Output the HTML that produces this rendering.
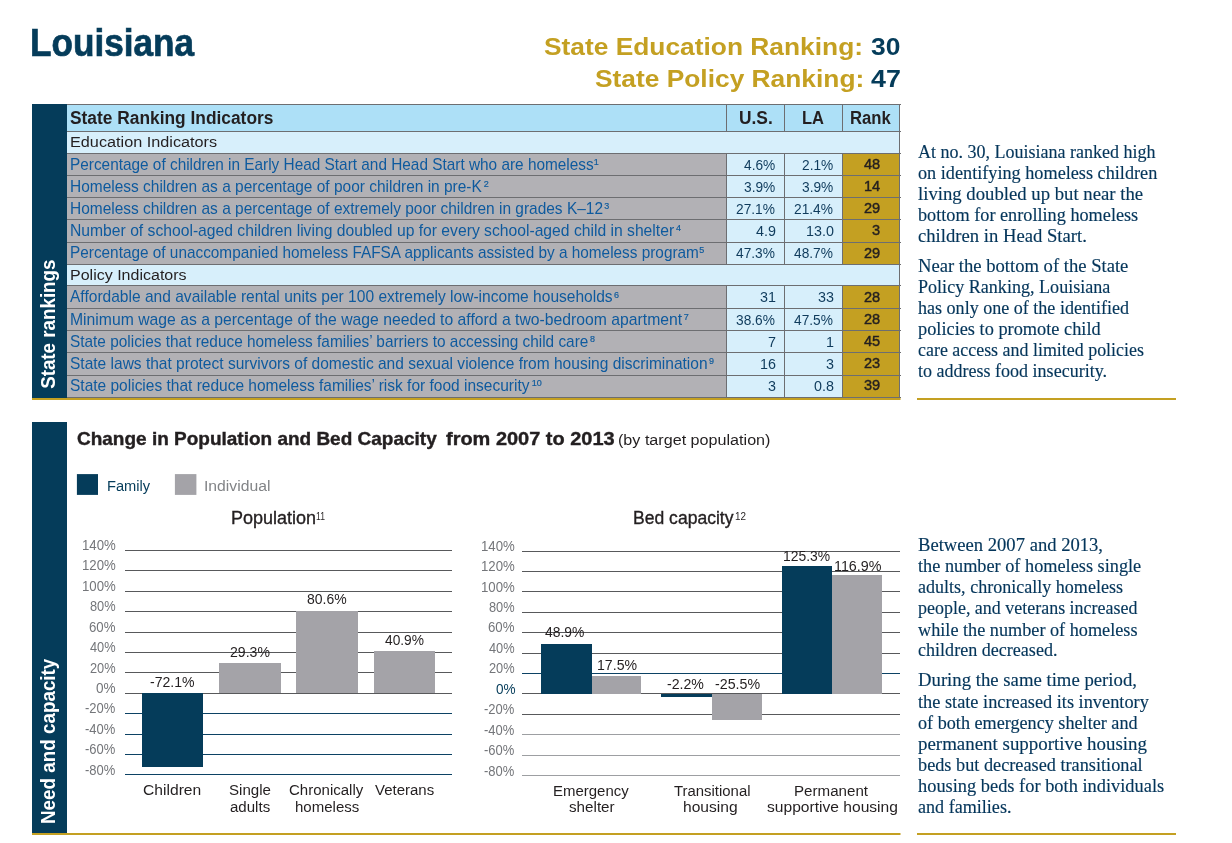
<!DOCTYPE html>
<html lang="en">
<head>
<meta charset="utf-8">
<title>Louisiana — State Rankings, Need and Capacity</title>
<style>
html,body{margin:0;padding:0;background:#fff;}
body{width:1232px;height:843px;position:relative;overflow:hidden;font-family:'Liberation Sans', Arial, sans-serif;}
.page,.blk{position:absolute;left:0;top:0;width:1232px;height:843px;margin:0;padding:0;}
h1,h2,h3,p,figure,figcaption,ul,li,aside,section,header,div{margin:0;padding:0;font-weight:normal;font-size:inherit;}
.g{position:absolute;left:0;top:0;pointer-events:none;}
.t{position:absolute;white-space:nowrap;line-height:1;transform-origin:0 0;display:block;}
sup{line-height:0;}
</style>
</head>
<body>
<main class="page">

<header class="blk">
<h1 class="blk"><span class="t " style="left:29.76px;top:23.90px;font-family:'Liberation Sans', Arial, sans-serif;font-size:38.2px;font-weight:bold;color:#053c5a;-webkit-text-stroke:0.7px #053c5a;transform:scale(0.9209,1.0000);">Louisiana</span></h1>
<div class="blk rankings">
<span class="t " style="left:544.31px;top:34.90px;font-family:'Liberation Sans', Arial, sans-serif;font-size:24.1px;font-weight:bold;color:#c4a022;transform:scale(1.0931,1.0000);">State Education Ranking:</span>
<span class="t " style="left:871.00px;top:34.90px;font-family:'Liberation Sans', Arial, sans-serif;font-size:24.1px;font-weight:bold;color:#053c5a;transform:scale(1.0962,1.0000);">30</span>
<span class="t " style="left:594.61px;top:67.30px;font-family:'Liberation Sans', Arial, sans-serif;font-size:24.1px;font-weight:bold;color:#c4a022;transform:scale(1.0930,1.0000);">State Policy Ranking:</span>
<span class="t " style="left:870.50px;top:67.30px;font-family:'Liberation Sans', Arial, sans-serif;font-size:24.1px;font-weight:bold;color:#053c5a;transform:scale(1.1154,1.0000);">47</span>
</div>
</header>

<section class="blk" id="state-rankings">
<svg class="g" width="1232" height="843" viewBox="0 0 1232 843" aria-hidden="true">
<rect x="32.00" y="104.00" width="35.00" height="294.00" fill="#053c5a"/>
<rect x="67.00" y="104.00" width="832.50" height="27.00" fill="#ade0f7"/>
<rect x="67.00" y="131.00" width="832.50" height="22.00" fill="#d7effb"/>
<rect x="67.00" y="153.00" width="659.40" height="22.00" fill="#b2b1b5"/>
<rect x="726.40" y="153.00" width="116.10" height="22.00" fill="#d7effb"/>
<rect x="842.50" y="153.00" width="57.00" height="22.00" fill="#c4a022"/>
<rect x="67.00" y="175.00" width="659.40" height="22.00" fill="#b2b1b5"/>
<rect x="726.40" y="175.00" width="116.10" height="22.00" fill="#d7effb"/>
<rect x="842.50" y="175.00" width="57.00" height="22.00" fill="#c4a022"/>
<rect x="67.00" y="197.00" width="659.40" height="22.00" fill="#b2b1b5"/>
<rect x="726.40" y="197.00" width="116.10" height="22.00" fill="#d7effb"/>
<rect x="842.50" y="197.00" width="57.00" height="22.00" fill="#c4a022"/>
<rect x="67.00" y="219.00" width="659.40" height="23.00" fill="#b2b1b5"/>
<rect x="726.40" y="219.00" width="116.10" height="23.00" fill="#d7effb"/>
<rect x="842.50" y="219.00" width="57.00" height="23.00" fill="#c4a022"/>
<rect x="67.00" y="242.00" width="659.40" height="22.00" fill="#b2b1b5"/>
<rect x="726.40" y="242.00" width="116.10" height="22.00" fill="#d7effb"/>
<rect x="842.50" y="242.00" width="57.00" height="22.00" fill="#c4a022"/>
<rect x="67.00" y="264.00" width="832.50" height="21.00" fill="#d7effb"/>
<rect x="67.00" y="285.00" width="659.40" height="23.00" fill="#b2b1b5"/>
<rect x="726.40" y="285.00" width="116.10" height="23.00" fill="#d7effb"/>
<rect x="842.50" y="285.00" width="57.00" height="23.00" fill="#c4a022"/>
<rect x="67.00" y="308.00" width="659.40" height="22.00" fill="#b2b1b5"/>
<rect x="726.40" y="308.00" width="116.10" height="22.00" fill="#d7effb"/>
<rect x="842.50" y="308.00" width="57.00" height="22.00" fill="#c4a022"/>
<rect x="67.00" y="330.00" width="659.40" height="22.00" fill="#b2b1b5"/>
<rect x="726.40" y="330.00" width="116.10" height="22.00" fill="#d7effb"/>
<rect x="842.50" y="330.00" width="57.00" height="22.00" fill="#c4a022"/>
<rect x="67.00" y="352.00" width="659.40" height="23.00" fill="#b2b1b5"/>
<rect x="726.40" y="352.00" width="116.10" height="23.00" fill="#d7effb"/>
<rect x="842.50" y="352.00" width="57.00" height="23.00" fill="#c4a022"/>
<rect x="67.00" y="375.00" width="659.40" height="22.00" fill="#b2b1b5"/>
<rect x="726.40" y="375.00" width="116.10" height="22.00" fill="#d7effb"/>
<rect x="842.50" y="375.00" width="57.00" height="22.00" fill="#c4a022"/>
<line x1="67.00" y1="104.50" x2="901.00" y2="104.50" stroke="#6d6e71" stroke-width="1.0" shape-rendering="crispEdges"/>
<line x1="67.00" y1="131.50" x2="901.00" y2="131.50" stroke="#6d6e71" stroke-width="1.0" shape-rendering="crispEdges"/>
<line x1="67.00" y1="153.50" x2="901.00" y2="153.50" stroke="#6d6e71" stroke-width="1.0" shape-rendering="crispEdges"/>
<line x1="67.00" y1="175.50" x2="901.00" y2="175.50" stroke="#6d6e71" stroke-width="1.0" shape-rendering="crispEdges"/>
<line x1="67.00" y1="197.50" x2="901.00" y2="197.50" stroke="#6d6e71" stroke-width="1.0" shape-rendering="crispEdges"/>
<line x1="67.00" y1="219.50" x2="901.00" y2="219.50" stroke="#6d6e71" stroke-width="1.0" shape-rendering="crispEdges"/>
<line x1="67.00" y1="242.50" x2="901.00" y2="242.50" stroke="#6d6e71" stroke-width="1.0" shape-rendering="crispEdges"/>
<line x1="67.00" y1="264.50" x2="901.00" y2="264.50" stroke="#6d6e71" stroke-width="1.0" shape-rendering="crispEdges"/>
<line x1="67.00" y1="285.50" x2="901.00" y2="285.50" stroke="#6d6e71" stroke-width="1.0" shape-rendering="crispEdges"/>
<line x1="67.00" y1="308.50" x2="901.00" y2="308.50" stroke="#6d6e71" stroke-width="1.0" shape-rendering="crispEdges"/>
<line x1="67.00" y1="330.50" x2="901.00" y2="330.50" stroke="#6d6e71" stroke-width="1.0" shape-rendering="crispEdges"/>
<line x1="67.00" y1="352.50" x2="901.00" y2="352.50" stroke="#6d6e71" stroke-width="1.0" shape-rendering="crispEdges"/>
<line x1="67.00" y1="375.50" x2="901.00" y2="375.50" stroke="#6d6e71" stroke-width="1.0" shape-rendering="crispEdges"/>
<line x1="67.00" y1="397.50" x2="901.00" y2="397.50" stroke="#6d6e71" stroke-width="1.0" shape-rendering="crispEdges"/>
<line x1="899.50" y1="104.00" x2="899.50" y2="398.00" stroke="#6d6e71" stroke-width="1.0" shape-rendering="crispEdges"/>
<line x1="726.50" y1="104.00" x2="726.50" y2="131.00" stroke="#6d6e71" stroke-width="1.0" shape-rendering="crispEdges"/>
<line x1="726.50" y1="153.00" x2="726.50" y2="264.00" stroke="#6d6e71" stroke-width="1.0" shape-rendering="crispEdges"/>
<line x1="726.50" y1="285.00" x2="726.50" y2="397.00" stroke="#6d6e71" stroke-width="1.0" shape-rendering="crispEdges"/>
<line x1="784.50" y1="104.00" x2="784.50" y2="131.00" stroke="#6d6e71" stroke-width="1.0" shape-rendering="crispEdges"/>
<line x1="784.50" y1="153.00" x2="784.50" y2="264.00" stroke="#6d6e71" stroke-width="1.0" shape-rendering="crispEdges"/>
<line x1="784.50" y1="285.00" x2="784.50" y2="397.00" stroke="#6d6e71" stroke-width="1.0" shape-rendering="crispEdges"/>
<line x1="842.50" y1="104.00" x2="842.50" y2="131.00" stroke="#6d6e71" stroke-width="1.0" shape-rendering="crispEdges"/>
<line x1="842.50" y1="153.00" x2="842.50" y2="264.00" stroke="#6d6e71" stroke-width="1.0" shape-rendering="crispEdges"/>
<line x1="842.50" y1="285.00" x2="842.50" y2="397.00" stroke="#6d6e71" stroke-width="1.0" shape-rendering="crispEdges"/>
<rect x="32.00" y="398.00" width="868.50" height="2.00" fill="#c4a022"/>
<rect x="917.00" y="398.00" width="259.00" height="2.00" fill="#c4a022"/>
</svg>
<h2 class="blk"><span class="t " style="left:0;top:0;font-family:'Liberation Sans', Arial, sans-serif;font-size:20px;font-weight:bold;color:#ffffff;transform:translate(37.42px,388.84px) rotate(-90deg) scale(0.9382,1.0400);">State rankings</span></h2>
<div class="blk tablewrap">
<span class="t " style="left:70.20px;top:109.75px;font-family:'Liberation Sans', Arial, sans-serif;font-size:17.5px;font-weight:bold;color:#231f20;transform:scale(0.9912,1.0000);">State Ranking Indicators</span>
<span class="t " style="left:738.53px;top:109.75px;font-family:'Liberation Sans', Arial, sans-serif;font-size:17.5px;font-weight:bold;color:#231f20;transform:scale(0.9922,1.0000);">U.S.</span>
<span class="t " style="left:802.08px;top:109.75px;font-family:'Liberation Sans', Arial, sans-serif;font-size:17.5px;font-weight:bold;color:#231f20;transform:scale(0.9432,1.0000);">LA</span>
<span class="t " style="left:850.30px;top:109.75px;font-family:'Liberation Sans', Arial, sans-serif;font-size:17.5px;font-weight:bold;color:#231f20;transform:scale(0.9524,1.0000);">Rank</span>
<span class="t " style="left:70.20px;top:134.40px;font-family:'Liberation Sans', Arial, sans-serif;font-size:15.4px;font-weight:normal;color:#231f20;transform:scale(1.0547,1.0000);">Education Indicators</span>
<span class="t " style="left:70.20px;top:267.10px;font-family:'Liberation Sans', Arial, sans-serif;font-size:15.4px;font-weight:normal;color:#231f20;transform:scale(1.0406,1.0000);">Policy Indicators</span>
<span class="t r1" style="left:70.20px;top:156.55px;font-family:'Liberation Sans', Arial, sans-serif;font-size:15.9px;font-weight:normal;color:#0e5a9e;transform:scale(0.9671,1.0000);">Percentage of children in Early Head Start and Head Start who are homeless</span>
<span class="t " style="left:593.80px;top:157.65px;font-family:'Liberation Sans', Arial, sans-serif;font-size:9px;font-weight:normal;color:#0e5a9e;-webkit-text-stroke:0.2px #115e9e;">1</span>
<span class="t " style="left:744.42px;top:156.55px;font-family:'Liberation Sans', Arial, sans-serif;font-size:15.5px;font-weight:normal;color:#0f3b5c;transform:scale(0.8850,1.0000);">4.6%</span>
<span class="t " style="left:802.32px;top:156.55px;font-family:'Liberation Sans', Arial, sans-serif;font-size:15.5px;font-weight:normal;color:#0f3b5c;transform:scale(0.8850,1.0000);">2.1%</span>
<span class="t " style="left:863.72px;top:155.95px;font-family:'Liberation Sans', Arial, sans-serif;font-size:15.5px;font-weight:normal;color:#231f20;-webkit-text-stroke:0.45px #231f20;transform:scale(0.9400,1.0000);">48</span>
<span class="t r2" style="left:70.20px;top:178.70px;font-family:'Liberation Sans', Arial, sans-serif;font-size:15.9px;font-weight:normal;color:#0e5a9e;transform:scale(0.9733,1.0000);">Homeless children as a percentage of poor children in pre-K</span>
<span class="t " style="left:483.70px;top:179.80px;font-family:'Liberation Sans', Arial, sans-serif;font-size:9px;font-weight:normal;color:#0e5a9e;-webkit-text-stroke:0.2px #115e9e;">2</span>
<span class="t " style="left:744.42px;top:178.70px;font-family:'Liberation Sans', Arial, sans-serif;font-size:15.5px;font-weight:normal;color:#0f3b5c;transform:scale(0.8850,1.0000);">3.9%</span>
<span class="t " style="left:802.32px;top:178.70px;font-family:'Liberation Sans', Arial, sans-serif;font-size:15.5px;font-weight:normal;color:#0f3b5c;transform:scale(0.8850,1.0000);">3.9%</span>
<span class="t " style="left:863.72px;top:178.10px;font-family:'Liberation Sans', Arial, sans-serif;font-size:15.5px;font-weight:normal;color:#231f20;-webkit-text-stroke:0.45px #231f20;transform:scale(0.9400,1.0000);">14</span>
<span class="t r3" style="left:70.20px;top:200.85px;font-family:'Liberation Sans', Arial, sans-serif;font-size:15.9px;font-weight:normal;color:#0e5a9e;transform:scale(0.9733,1.0000);">Homeless children as a percentage of extremely poor children in grades K–12</span>
<span class="t " style="left:604.20px;top:201.95px;font-family:'Liberation Sans', Arial, sans-serif;font-size:9px;font-weight:normal;color:#0e5a9e;-webkit-text-stroke:0.2px #115e9e;">3</span>
<span class="t " style="left:736.46px;top:200.85px;font-family:'Liberation Sans', Arial, sans-serif;font-size:15.5px;font-weight:normal;color:#0f3b5c;transform:scale(0.8850,1.0000);">27.1%</span>
<span class="t " style="left:794.36px;top:200.85px;font-family:'Liberation Sans', Arial, sans-serif;font-size:15.5px;font-weight:normal;color:#0f3b5c;transform:scale(0.8850,1.0000);">21.4%</span>
<span class="t " style="left:863.72px;top:200.25px;font-family:'Liberation Sans', Arial, sans-serif;font-size:15.5px;font-weight:normal;color:#231f20;-webkit-text-stroke:0.45px #231f20;transform:scale(0.9400,1.0000);">29</span>
<span class="t r4" style="left:70.20px;top:223.00px;font-family:'Liberation Sans', Arial, sans-serif;font-size:15.9px;font-weight:normal;color:#0e5a9e;transform:scale(0.9869,1.0000);">Number of school-aged children living doubled up for every school-aged child in shelter</span>
<span class="t " style="left:676.00px;top:224.10px;font-family:'Liberation Sans', Arial, sans-serif;font-size:9px;font-weight:normal;color:#0e5a9e;-webkit-text-stroke:0.2px #115e9e;">4</span>
<span class="t " style="left:755.98px;top:223.00px;font-family:'Liberation Sans', Arial, sans-serif;font-size:15.5px;font-weight:normal;color:#0f3b5c;transform:scale(0.9250,1.0000);">4.9</span>
<span class="t " style="left:805.55px;top:223.00px;font-family:'Liberation Sans', Arial, sans-serif;font-size:15.5px;font-weight:normal;color:#0f3b5c;transform:scale(0.9250,1.0000);">13.0</span>
<span class="t " style="left:872.18px;top:222.40px;font-family:'Liberation Sans', Arial, sans-serif;font-size:15.5px;font-weight:normal;color:#231f20;-webkit-text-stroke:0.45px #231f20;transform:scale(0.9400,1.0000);">3</span>
<span class="t r5" style="left:70.20px;top:245.15px;font-family:'Liberation Sans', Arial, sans-serif;font-size:15.9px;font-weight:normal;color:#0e5a9e;transform:scale(0.9660,1.0000);">Percentage of unaccompanied homeless FAFSA applicants assisted by a homeless program</span>
<span class="t " style="left:699.20px;top:246.25px;font-family:'Liberation Sans', Arial, sans-serif;font-size:9px;font-weight:normal;color:#0e5a9e;-webkit-text-stroke:0.2px #115e9e;">5</span>
<span class="t " style="left:736.46px;top:245.15px;font-family:'Liberation Sans', Arial, sans-serif;font-size:15.5px;font-weight:normal;color:#0f3b5c;transform:scale(0.8850,1.0000);">47.3%</span>
<span class="t " style="left:794.36px;top:245.15px;font-family:'Liberation Sans', Arial, sans-serif;font-size:15.5px;font-weight:normal;color:#0f3b5c;transform:scale(0.8850,1.0000);">48.7%</span>
<span class="t " style="left:863.72px;top:244.55px;font-family:'Liberation Sans', Arial, sans-serif;font-size:15.5px;font-weight:normal;color:#231f20;-webkit-text-stroke:0.45px #231f20;transform:scale(0.9400,1.0000);">29</span>
<span class="t r7" style="left:70.20px;top:289.45px;font-family:'Liberation Sans', Arial, sans-serif;font-size:15.9px;font-weight:normal;color:#0e5a9e;transform:scale(0.9787,1.0000);">Affordable and available rental units per 100 extremely low-income households</span>
<span class="t " style="left:614.00px;top:290.55px;font-family:'Liberation Sans', Arial, sans-serif;font-size:9px;font-weight:normal;color:#0e5a9e;-webkit-text-stroke:0.2px #115e9e;">6</span>
<span class="t " style="left:759.67px;top:289.45px;font-family:'Liberation Sans', Arial, sans-serif;font-size:15.5px;font-weight:normal;color:#0f3b5c;transform:scale(0.9250,1.0000);">31</span>
<span class="t " style="left:817.57px;top:289.45px;font-family:'Liberation Sans', Arial, sans-serif;font-size:15.5px;font-weight:normal;color:#0f3b5c;transform:scale(0.9250,1.0000);">33</span>
<span class="t " style="left:863.72px;top:288.85px;font-family:'Liberation Sans', Arial, sans-serif;font-size:15.5px;font-weight:normal;color:#231f20;-webkit-text-stroke:0.45px #231f20;transform:scale(0.9400,1.0000);">28</span>
<span class="t r8" style="left:70.20px;top:311.60px;font-family:'Liberation Sans', Arial, sans-serif;font-size:15.9px;font-weight:normal;color:#0e5a9e;transform:scale(0.9905,1.0000);">Minimum wage as a percentage of the wage needed to afford a two-bedroom apartment</span>
<span class="t " style="left:683.80px;top:312.70px;font-family:'Liberation Sans', Arial, sans-serif;font-size:9px;font-weight:normal;color:#0e5a9e;-webkit-text-stroke:0.2px #115e9e;">7</span>
<span class="t " style="left:736.46px;top:311.60px;font-family:'Liberation Sans', Arial, sans-serif;font-size:15.5px;font-weight:normal;color:#0f3b5c;transform:scale(0.8850,1.0000);">38.6%</span>
<span class="t " style="left:794.36px;top:311.60px;font-family:'Liberation Sans', Arial, sans-serif;font-size:15.5px;font-weight:normal;color:#0f3b5c;transform:scale(0.8850,1.0000);">47.5%</span>
<span class="t " style="left:863.72px;top:311.00px;font-family:'Liberation Sans', Arial, sans-serif;font-size:15.5px;font-weight:normal;color:#231f20;-webkit-text-stroke:0.45px #231f20;transform:scale(0.9400,1.0000);">28</span>
<span class="t r9" style="left:70.20px;top:333.75px;font-family:'Liberation Sans', Arial, sans-serif;font-size:15.9px;font-weight:normal;color:#0e5a9e;transform:scale(0.9679,1.0000);">State policies that reduce homeless families’ barriers to accessing child care</span>
<span class="t " style="left:590.10px;top:334.85px;font-family:'Liberation Sans', Arial, sans-serif;font-size:9px;font-weight:normal;color:#0e5a9e;-webkit-text-stroke:0.2px #115e9e;">8</span>
<span class="t " style="left:768.00px;top:333.75px;font-family:'Liberation Sans', Arial, sans-serif;font-size:15.5px;font-weight:normal;color:#0f3b5c;transform:scale(0.9250,1.0000);">7</span>
<span class="t " style="left:825.90px;top:333.75px;font-family:'Liberation Sans', Arial, sans-serif;font-size:15.5px;font-weight:normal;color:#0f3b5c;transform:scale(0.9250,1.0000);">1</span>
<span class="t " style="left:863.72px;top:333.15px;font-family:'Liberation Sans', Arial, sans-serif;font-size:15.5px;font-weight:normal;color:#231f20;-webkit-text-stroke:0.45px #231f20;transform:scale(0.9400,1.0000);">45</span>
<span class="t r10" style="left:70.20px;top:355.90px;font-family:'Liberation Sans', Arial, sans-serif;font-size:15.9px;font-weight:normal;color:#0e5a9e;transform:scale(0.9768,1.0000);">State laws that protect survivors of domestic and sexual violence from housing discrimination</span>
<span class="t " style="left:708.90px;top:357.00px;font-family:'Liberation Sans', Arial, sans-serif;font-size:9px;font-weight:normal;color:#0e5a9e;-webkit-text-stroke:0.2px #115e9e;">9</span>
<span class="t " style="left:759.68px;top:355.90px;font-family:'Liberation Sans', Arial, sans-serif;font-size:15.5px;font-weight:normal;color:#0f3b5c;transform:scale(0.9250,1.0000);">16</span>
<span class="t " style="left:825.90px;top:355.90px;font-family:'Liberation Sans', Arial, sans-serif;font-size:15.5px;font-weight:normal;color:#0f3b5c;transform:scale(0.9250,1.0000);">3</span>
<span class="t " style="left:863.72px;top:355.30px;font-family:'Liberation Sans', Arial, sans-serif;font-size:15.5px;font-weight:normal;color:#231f20;-webkit-text-stroke:0.45px #231f20;transform:scale(0.9400,1.0000);">23</span>
<span class="t r11" style="left:70.20px;top:378.05px;font-family:'Liberation Sans', Arial, sans-serif;font-size:15.9px;font-weight:normal;color:#0e5a9e;transform:scale(0.9754,1.0000);">State policies that reduce homeless families’ risk for food insecurity</span>
<span class="t " style="left:531.80px;top:379.15px;font-family:'Liberation Sans', Arial, sans-serif;font-size:9px;font-weight:normal;color:#0e5a9e;-webkit-text-stroke:0.2px #115e9e;">10</span>
<span class="t " style="left:768.00px;top:378.05px;font-family:'Liberation Sans', Arial, sans-serif;font-size:15.5px;font-weight:normal;color:#0f3b5c;transform:scale(0.9250,1.0000);">3</span>
<span class="t " style="left:813.88px;top:378.05px;font-family:'Liberation Sans', Arial, sans-serif;font-size:15.5px;font-weight:normal;color:#0f3b5c;transform:scale(0.9250,1.0000);">0.8</span>
<span class="t " style="left:863.72px;top:377.45px;font-family:'Liberation Sans', Arial, sans-serif;font-size:15.5px;font-weight:normal;color:#231f20;-webkit-text-stroke:0.45px #231f20;transform:scale(0.9400,1.0000);">39</span>
</div>
<aside class="blk">
<p class="blk">
<span class="t " style="left:917.70px;top:143.50px;font-family:'Liberation Serif', 'Times New Roman', serif;font-size:17.8px;font-weight:normal;color:#04355a;-webkit-text-stroke:0.15px #04355a;transform:scale(1.0128,1.0000);">At no. 30, Louisiana ranked high</span>
<span class="t " style="left:917.70px;top:164.70px;font-family:'Liberation Serif', 'Times New Roman', serif;font-size:17.8px;font-weight:normal;color:#04355a;-webkit-text-stroke:0.15px #04355a;transform:scale(1.0244,1.0000);">on identifying homeless children</span>
<span class="t " style="left:917.70px;top:185.90px;font-family:'Liberation Serif', 'Times New Roman', serif;font-size:17.8px;font-weight:normal;color:#04355a;-webkit-text-stroke:0.15px #04355a;transform:scale(1.0528,1.0000);">living doubled up but near the</span>
<span class="t " style="left:917.70px;top:206.80px;font-family:'Liberation Serif', 'Times New Roman', serif;font-size:17.8px;font-weight:normal;color:#04355a;-webkit-text-stroke:0.15px #04355a;transform:scale(1.0251,1.0000);">bottom for enrolling homeless</span>
<span class="t " style="left:917.70px;top:228.00px;font-family:'Liberation Serif', 'Times New Roman', serif;font-size:17.8px;font-weight:normal;color:#04355a;-webkit-text-stroke:0.15px #04355a;transform:scale(1.0487,1.0000);">children in Head Start.</span>
</p>
<p class="blk">
<span class="t " style="left:917.70px;top:257.90px;font-family:'Liberation Serif', 'Times New Roman', serif;font-size:17.8px;font-weight:normal;color:#04355a;-webkit-text-stroke:0.15px #04355a;transform:scale(1.0468,1.0000);">Near the bottom of the State</span>
<span class="t " style="left:917.70px;top:279.10px;font-family:'Liberation Serif', 'Times New Roman', serif;font-size:17.8px;font-weight:normal;color:#04355a;-webkit-text-stroke:0.15px #04355a;transform:scale(1.0169,1.0000);">Policy Ranking, Louisiana</span>
<span class="t " style="left:917.70px;top:300.00px;font-family:'Liberation Serif', 'Times New Roman', serif;font-size:17.8px;font-weight:normal;color:#04355a;-webkit-text-stroke:0.15px #04355a;transform:scale(1.0154,1.0000);">has only one of the identified</span>
<span class="t " style="left:917.70px;top:321.00px;font-family:'Liberation Serif', 'Times New Roman', serif;font-size:17.8px;font-weight:normal;color:#04355a;-webkit-text-stroke:0.15px #04355a;transform:scale(1.0305,1.0000);">policies to promote child</span>
<span class="t " style="left:917.70px;top:341.90px;font-family:'Liberation Serif', 'Times New Roman', serif;font-size:17.8px;font-weight:normal;color:#04355a;-webkit-text-stroke:0.15px #04355a;transform:scale(1.0080,1.0000);">care access and limited policies</span>
<span class="t " style="left:917.70px;top:362.60px;font-family:'Liberation Serif', 'Times New Roman', serif;font-size:17.8px;font-weight:normal;color:#04355a;-webkit-text-stroke:0.15px #04355a;transform:scale(1.0134,1.0000);">to address food insecurity.</span>
</p>
</aside>
</section>

<section class="blk" id="need-and-capacity">
<svg class="g" width="1232" height="843" viewBox="0 0 1232 843" aria-hidden="true">
<rect x="32.00" y="422.00" width="35.00" height="411.00" fill="#053c5a"/>
<rect x="32.00" y="833.00" width="868.50" height="2.00" fill="#c4a022"/>
<rect x="917.00" y="833.00" width="259.00" height="2.00" fill="#c4a022"/>
<rect x="76.90" y="474.10" width="21.10" height="20.80" fill="#053c5a"/>
<rect x="174.90" y="474.10" width="21.50" height="20.80" fill="#a4a3a8"/>
</svg>
<h2 class="blk"><span class="t " style="left:0;top:0;font-family:'Liberation Sans', Arial, sans-serif;font-size:20px;font-weight:bold;color:#ffffff;transform:translate(37.35px,824.04px) rotate(-90deg) scale(0.9417,1.0500);">Need and capacity</span></h2>
<h3 class="blk">
<span class="t " style="left:76.90px;top:430.20px;font-family:'Liberation Sans', Arial, sans-serif;font-size:18.5px;font-weight:bold;color:#231f20;-webkit-text-stroke:0.4px #231f20;transform:scale(1.0262,1.0000);">Change in Population and Bed Capacity</span>
<span class="t " style="left:445.50px;top:430.20px;font-family:'Liberation Sans', Arial, sans-serif;font-size:18.5px;font-weight:bold;color:#231f20;-webkit-text-stroke:0.4px #231f20;transform:scale(1.0788,1.0000);">from 2007 to 2013</span>
<span class="t " style="left:617.56px;top:432.20px;font-family:'Liberation Sans', Arial, sans-serif;font-size:15.5px;font-weight:normal;color:#231f20;transform:scale(1.0407,1.0000);">(by target population)</span>
</h3>
<div class="blk legend">
<span class="t " style="left:106.75px;top:478.30px;font-family:'Liberation Sans', Arial, sans-serif;font-size:15.5px;font-weight:normal;color:#053c5a;transform:scale(0.9467,1.0000);">Family</span>
<span class="t " style="left:204.49px;top:478.30px;font-family:'Liberation Sans', Arial, sans-serif;font-size:15.5px;font-weight:normal;color:#828487;transform:scale(1.0141,1.0000);">Individual</span>
</div>
<figure class="blk" id="chart-population">
<svg class="g" width="1232" height="843" viewBox="0 0 1232 843" aria-hidden="true">
<line x1="125.00" y1="550.50" x2="452.00" y2="550.50" stroke="#58595b" stroke-width="1.0" shape-rendering="crispEdges"/>
<line x1="125.00" y1="570.50" x2="452.00" y2="570.50" stroke="#58595b" stroke-width="1.0" shape-rendering="crispEdges"/>
<line x1="125.00" y1="591.50" x2="452.00" y2="591.50" stroke="#58595b" stroke-width="1.0" shape-rendering="crispEdges"/>
<line x1="125.00" y1="611.50" x2="452.00" y2="611.50" stroke="#58595b" stroke-width="1.0" shape-rendering="crispEdges"/>
<line x1="125.00" y1="632.50" x2="452.00" y2="632.50" stroke="#58595b" stroke-width="1.0" shape-rendering="crispEdges"/>
<line x1="125.00" y1="652.50" x2="452.00" y2="652.50" stroke="#58595b" stroke-width="1.0" shape-rendering="crispEdges"/>
<line x1="125.00" y1="672.50" x2="452.00" y2="672.50" stroke="#58595b" stroke-width="1.0" shape-rendering="crispEdges"/>
<line x1="125.00" y1="693.50" x2="452.00" y2="693.50" stroke="#58595b" stroke-width="1.0" shape-rendering="crispEdges"/>
<line x1="125.00" y1="713.50" x2="452.00" y2="713.50" stroke="#0c4264" stroke-width="1.0" shape-rendering="crispEdges"/>
<line x1="125.00" y1="734.50" x2="452.00" y2="734.50" stroke="#0c4264" stroke-width="1.0" shape-rendering="crispEdges"/>
<line x1="125.00" y1="754.50" x2="452.00" y2="754.50" stroke="#0c4264" stroke-width="1.0" shape-rendering="crispEdges"/>
<line x1="125.00" y1="774.50" x2="452.00" y2="774.50" stroke="#0c4264" stroke-width="1.0" shape-rendering="crispEdges"/>
<rect x="142.00" y="693.00" width="61.00" height="74.00" fill="#053c5a"/>
<rect x="219.00" y="663.00" width="62.00" height="30.00" fill="#a4a3a8"/>
<rect x="296.00" y="611.00" width="62.00" height="82.00" fill="#a4a3a8"/>
<rect x="374.00" y="651.00" width="61.00" height="42.00" fill="#a4a3a8"/>
</svg>
<span class="t " style="left:230.67px;top:510.00px;font-family:'Liberation Sans', Arial, sans-serif;font-size:17.5px;font-weight:normal;color:#231f20;-webkit-text-stroke:0.35px #231f20;transform:scale(1.0284,1.0000);">Population</span>
<span class="t " style="left:315.96px;top:511.70px;font-family:'Liberation Sans', Arial, sans-serif;font-size:10.2px;font-weight:normal;color:#231f20;transform:scale(0.8444,1.0000);">11</span>
<span class="t " style="left:81.62px;top:536.78px;font-family:'Liberation Sans', Arial, sans-serif;font-size:15.0px;font-weight:normal;color:#74767a;transform:scale(0.8811,1.0000);">140%</span>
<span class="t " style="left:81.62px;top:557.24px;font-family:'Liberation Sans', Arial, sans-serif;font-size:15.0px;font-weight:normal;color:#74767a;transform:scale(0.8811,1.0000);">120%</span>
<span class="t " style="left:81.62px;top:577.70px;font-family:'Liberation Sans', Arial, sans-serif;font-size:15.0px;font-weight:normal;color:#74767a;transform:scale(0.8811,1.0000);">100%</span>
<span class="t " style="left:89.50px;top:598.16px;font-family:'Liberation Sans', Arial, sans-serif;font-size:15.0px;font-weight:normal;color:#74767a;transform:scale(0.8533,1.0000);">80%</span>
<span class="t " style="left:88.62px;top:618.62px;font-family:'Liberation Sans', Arial, sans-serif;font-size:15.0px;font-weight:normal;color:#74767a;transform:scale(0.8828,1.0000);">60%</span>
<span class="t " style="left:89.50px;top:639.08px;font-family:'Liberation Sans', Arial, sans-serif;font-size:15.0px;font-weight:normal;color:#74767a;transform:scale(0.8533,1.0000);">40%</span>
<span class="t " style="left:89.50px;top:659.54px;font-family:'Liberation Sans', Arial, sans-serif;font-size:15.0px;font-weight:normal;color:#74767a;transform:scale(0.8533,1.0000);">20%</span>
<span class="t " style="left:96.10px;top:680.00px;font-family:'Liberation Sans', Arial, sans-serif;font-size:15.0px;font-weight:normal;color:#74767a;transform:scale(0.9048,1.0000);">0%</span>
<span class="t " style="left:84.80px;top:700.46px;font-family:'Liberation Sans', Arial, sans-serif;font-size:15.0px;font-weight:normal;color:#74767a;transform:scale(0.8657,1.0000);">-20%</span>
<span class="t " style="left:84.80px;top:720.92px;font-family:'Liberation Sans', Arial, sans-serif;font-size:15.0px;font-weight:normal;color:#74767a;transform:scale(0.8657,1.0000);">-40%</span>
<span class="t " style="left:84.80px;top:741.38px;font-family:'Liberation Sans', Arial, sans-serif;font-size:15.0px;font-weight:normal;color:#74767a;transform:scale(0.8657,1.0000);">-60%</span>
<span class="t " style="left:84.80px;top:761.84px;font-family:'Liberation Sans', Arial, sans-serif;font-size:15.0px;font-weight:normal;color:#74767a;transform:scale(0.8657,1.0000);">-80%</span>
<span class="t " style="left:149.80px;top:673.70px;font-family:'Liberation Sans', Arial, sans-serif;font-size:15.5px;font-weight:normal;color:#231f20;transform:scale(0.9082,1.0000);">-72.1%</span>
<span class="t " style="left:229.80px;top:643.90px;font-family:'Liberation Sans', Arial, sans-serif;font-size:15.5px;font-weight:normal;color:#231f20;transform:scale(0.9091,1.0000);">29.3%</span>
<span class="t " style="left:307.10px;top:591.00px;font-family:'Liberation Sans', Arial, sans-serif;font-size:15.5px;font-weight:normal;color:#231f20;transform:scale(0.9023,1.0000);">80.6%</span>
<span class="t " style="left:385.00px;top:631.90px;font-family:'Liberation Sans', Arial, sans-serif;font-size:15.5px;font-weight:normal;color:#231f20;transform:scale(0.8864,1.0000);">40.9%</span>
<span class="t " style="left:142.89px;top:781.90px;font-family:'Liberation Sans', Arial, sans-serif;font-size:15.5px;font-weight:normal;color:#231f20;transform:scale(1.0089,1.0000);">Children</span>
<span class="t " style="left:228.53px;top:781.90px;font-family:'Liberation Sans', Arial, sans-serif;font-size:15.5px;font-weight:normal;color:#231f20;transform:scale(0.9738,1.0000);">Single</span>
<span class="t " style="left:229.90px;top:798.70px;font-family:'Liberation Sans', Arial, sans-serif;font-size:15.5px;font-weight:normal;color:#231f20;transform:scale(0.9707,1.0000);">adults</span>
<span class="t " style="left:288.73px;top:781.90px;font-family:'Liberation Sans', Arial, sans-serif;font-size:15.5px;font-weight:normal;color:#231f20;transform:scale(0.9684,1.0000);">Chronically</span>
<span class="t " style="left:294.83px;top:798.70px;font-family:'Liberation Sans', Arial, sans-serif;font-size:15.5px;font-weight:normal;color:#231f20;transform:scale(0.9692,1.0000);">homeless</span>
<span class="t " style="left:375.10px;top:781.90px;font-family:'Liberation Sans', Arial, sans-serif;font-size:15.5px;font-weight:normal;color:#231f20;transform:scale(0.9672,1.0000);">Veterans</span>
</figure>
<figure class="blk" id="chart-beds">
<svg class="g" width="1232" height="843" viewBox="0 0 1232 843" aria-hidden="true">
<line x1="522.00" y1="551.50" x2="900.00" y2="551.50" stroke="#58595b" stroke-width="1.0" shape-rendering="crispEdges"/>
<line x1="522.00" y1="571.50" x2="900.00" y2="571.50" stroke="#58595b" stroke-width="1.0" shape-rendering="crispEdges"/>
<line x1="522.00" y1="591.50" x2="900.00" y2="591.50" stroke="#58595b" stroke-width="1.0" shape-rendering="crispEdges"/>
<line x1="522.00" y1="612.50" x2="900.00" y2="612.50" stroke="#58595b" stroke-width="1.0" shape-rendering="crispEdges"/>
<line x1="522.00" y1="632.50" x2="900.00" y2="632.50" stroke="#58595b" stroke-width="1.0" shape-rendering="crispEdges"/>
<line x1="522.00" y1="653.50" x2="900.00" y2="653.50" stroke="#58595b" stroke-width="1.0" shape-rendering="crispEdges"/>
<line x1="522.00" y1="673.50" x2="900.00" y2="673.50" stroke="#0c4264" stroke-width="1.0" shape-rendering="crispEdges"/>
<line x1="522.00" y1="693.50" x2="900.00" y2="693.50" stroke="#58595b" stroke-width="1.0" shape-rendering="crispEdges"/>
<line x1="522.00" y1="714.50" x2="900.00" y2="714.50" stroke="#58595b" stroke-width="1.0" shape-rendering="crispEdges"/>
<line x1="522.00" y1="734.50" x2="900.00" y2="734.50" stroke="#9d9fa2" stroke-width="1.0" shape-rendering="crispEdges"/>
<line x1="522.00" y1="755.50" x2="900.00" y2="755.50" stroke="#9d9fa2" stroke-width="1.0" shape-rendering="crispEdges"/>
<line x1="522.00" y1="775.50" x2="900.00" y2="775.50" stroke="#9d9fa2" stroke-width="1.0" shape-rendering="crispEdges"/>
<rect x="541.00" y="644.00" width="51.00" height="50.00" fill="#053c5a"/>
<rect x="592.00" y="676.00" width="49.00" height="18.00" fill="#a4a3a8"/>
<rect x="661.00" y="694.00" width="51.00" height="3.00" fill="#053c5a"/>
<rect x="712.00" y="694.00" width="50.00" height="26.00" fill="#a4a3a8"/>
<rect x="782.00" y="566.00" width="50.00" height="128.00" fill="#053c5a"/>
<rect x="832.00" y="575.00" width="50.00" height="119.00" fill="#a4a3a8"/>
</svg>
<span class="t " style="left:632.90px;top:510.00px;font-family:'Liberation Sans', Arial, sans-serif;font-size:17.5px;font-weight:normal;color:#231f20;-webkit-text-stroke:0.35px #231f20;transform:scale(1.0030,1.0000);">Bed capacity</span>
<span class="t " style="left:734.93px;top:511.80px;font-family:'Liberation Sans', Arial, sans-serif;font-size:10.2px;font-weight:normal;color:#231f20;transform:scale(0.9700,1.0000);">12</span>
<span class="t " style="left:481.02px;top:537.58px;font-family:'Liberation Sans', Arial, sans-serif;font-size:15.0px;font-weight:normal;color:#74767a;transform:scale(0.8811,1.0000);">140%</span>
<span class="t " style="left:481.02px;top:558.04px;font-family:'Liberation Sans', Arial, sans-serif;font-size:15.0px;font-weight:normal;color:#74767a;transform:scale(0.8811,1.0000);">120%</span>
<span class="t " style="left:481.02px;top:578.50px;font-family:'Liberation Sans', Arial, sans-serif;font-size:15.0px;font-weight:normal;color:#74767a;transform:scale(0.8811,1.0000);">100%</span>
<span class="t " style="left:488.90px;top:598.96px;font-family:'Liberation Sans', Arial, sans-serif;font-size:15.0px;font-weight:normal;color:#74767a;transform:scale(0.8533,1.0000);">80%</span>
<span class="t " style="left:488.02px;top:619.42px;font-family:'Liberation Sans', Arial, sans-serif;font-size:15.0px;font-weight:normal;color:#74767a;transform:scale(0.8828,1.0000);">60%</span>
<span class="t " style="left:488.90px;top:639.88px;font-family:'Liberation Sans', Arial, sans-serif;font-size:15.0px;font-weight:normal;color:#74767a;transform:scale(0.8533,1.0000);">40%</span>
<span class="t " style="left:488.90px;top:660.34px;font-family:'Liberation Sans', Arial, sans-serif;font-size:15.0px;font-weight:normal;color:#74767a;transform:scale(0.8533,1.0000);">20%</span>
<span class="t " style="left:495.50px;top:680.80px;font-family:'Liberation Sans', Arial, sans-serif;font-size:15.0px;font-weight:normal;color:#053c5a;transform:scale(0.9048,1.0000);">0%</span>
<span class="t " style="left:484.20px;top:701.26px;font-family:'Liberation Sans', Arial, sans-serif;font-size:15.0px;font-weight:normal;color:#74767a;transform:scale(0.8657,1.0000);">-20%</span>
<span class="t " style="left:484.20px;top:721.72px;font-family:'Liberation Sans', Arial, sans-serif;font-size:15.0px;font-weight:normal;color:#74767a;transform:scale(0.8657,1.0000);">-40%</span>
<span class="t " style="left:484.20px;top:742.18px;font-family:'Liberation Sans', Arial, sans-serif;font-size:15.0px;font-weight:normal;color:#74767a;transform:scale(0.8657,1.0000);">-60%</span>
<span class="t " style="left:484.20px;top:762.64px;font-family:'Liberation Sans', Arial, sans-serif;font-size:15.0px;font-weight:normal;color:#74767a;transform:scale(0.8657,1.0000);">-80%</span>
<span class="t " style="left:545.00px;top:624.20px;font-family:'Liberation Sans', Arial, sans-serif;font-size:15.5px;font-weight:normal;color:#231f20;transform:scale(0.8955,1.0000);">48.9%</span>
<span class="t " style="left:597.39px;top:656.80px;font-family:'Liberation Sans', Arial, sans-serif;font-size:15.5px;font-weight:normal;color:#231f20;transform:scale(0.9116,1.0000);">17.5%</span>
<span class="t " style="left:667.20px;top:675.80px;font-family:'Liberation Sans', Arial, sans-serif;font-size:15.5px;font-weight:normal;color:#231f20;transform:scale(0.9125,1.0000);">-2.2%</span>
<span class="t " style="left:714.70px;top:675.80px;font-family:'Liberation Sans', Arial, sans-serif;font-size:15.5px;font-weight:normal;color:#231f20;transform:scale(0.9184,1.0000);">-25.5%</span>
<span class="t " style="left:782.80px;top:548.00px;font-family:'Liberation Sans', Arial, sans-serif;font-size:15.5px;font-weight:normal;color:#231f20;transform:scale(0.8961,1.0000);">125.3%</span>
<span class="t " style="left:833.88px;top:557.70px;font-family:'Liberation Sans', Arial, sans-serif;font-size:15.5px;font-weight:normal;color:#231f20;transform:scale(0.9240,1.0000);">116.9%</span>
<span class="t " style="left:552.53px;top:782.60px;font-family:'Liberation Sans', Arial, sans-serif;font-size:15.5px;font-weight:normal;color:#231f20;transform:scale(0.9654,1.0000);">Emergency</span>
<span class="t " style="left:568.60px;top:799.30px;font-family:'Liberation Sans', Arial, sans-serif;font-size:15.5px;font-weight:normal;color:#231f20;transform:scale(0.9804,1.0000);">shelter</span>
<span class="t " style="left:673.50px;top:782.60px;font-family:'Liberation Sans', Arial, sans-serif;font-size:15.5px;font-weight:normal;color:#231f20;transform:scale(0.9620,1.0000);">Transitional</span>
<span class="t " style="left:683.49px;top:799.30px;font-family:'Liberation Sans', Arial, sans-serif;font-size:15.5px;font-weight:normal;color:#231f20;transform:scale(1.0057,1.0000);">housing</span>
<span class="t " style="left:793.72px;top:782.60px;font-family:'Liberation Sans', Arial, sans-serif;font-size:15.5px;font-weight:normal;color:#231f20;transform:scale(0.9760,1.0000);">Permanent</span>
<span class="t " style="left:766.60px;top:799.30px;font-family:'Liberation Sans', Arial, sans-serif;font-size:15.5px;font-weight:normal;color:#231f20;transform:scale(1.0062,1.0000);">supportive housing</span>
</figure>
<aside class="blk">
<p class="blk">
<span class="t " style="left:917.60px;top:536.90px;font-family:'Liberation Serif', 'Times New Roman', serif;font-size:17.8px;font-weight:normal;color:#04355a;-webkit-text-stroke:0.15px #04355a;transform:scale(1.0466,1.0000);">Between 2007 and 2013,</span>
<span class="t " style="left:917.60px;top:558.40px;font-family:'Liberation Serif', 'Times New Roman', serif;font-size:17.8px;font-weight:normal;color:#04355a;-webkit-text-stroke:0.15px #04355a;transform:scale(1.0272,1.0000);">the number of homeless single</span>
<span class="t " style="left:917.60px;top:579.20px;font-family:'Liberation Serif', 'Times New Roman', serif;font-size:17.8px;font-weight:normal;color:#04355a;-webkit-text-stroke:0.15px #04355a;transform:scale(1.0149,1.0000);">adults, chronically homeless</span>
<span class="t " style="left:917.60px;top:600.40px;font-family:'Liberation Serif', 'Times New Roman', serif;font-size:17.8px;font-weight:normal;color:#04355a;-webkit-text-stroke:0.15px #04355a;transform:scale(1.0101,1.0000);">people, and veterans increased</span>
<span class="t " style="left:917.60px;top:621.50px;font-family:'Liberation Serif', 'Times New Roman', serif;font-size:17.8px;font-weight:normal;color:#04355a;-webkit-text-stroke:0.15px #04355a;transform:scale(1.0243,1.0000);">while the number of homeless</span>
<span class="t " style="left:917.60px;top:642.30px;font-family:'Liberation Serif', 'Times New Roman', serif;font-size:17.8px;font-weight:normal;color:#04355a;-webkit-text-stroke:0.15px #04355a;transform:scale(1.0162,1.0000);">children decreased.</span>
</p>
<p class="blk">
<span class="t " style="left:917.60px;top:672.40px;font-family:'Liberation Serif', 'Times New Roman', serif;font-size:17.8px;font-weight:normal;color:#04355a;-webkit-text-stroke:0.15px #04355a;transform:scale(1.0531,1.0000);">During the same time period,</span>
<span class="t " style="left:917.60px;top:693.60px;font-family:'Liberation Serif', 'Times New Roman', serif;font-size:17.8px;font-weight:normal;color:#04355a;-webkit-text-stroke:0.15px #04355a;transform:scale(1.0295,1.0000);">the state increased its inventory</span>
<span class="t " style="left:917.60px;top:714.70px;font-family:'Liberation Serif', 'Times New Roman', serif;font-size:17.8px;font-weight:normal;color:#04355a;-webkit-text-stroke:0.15px #04355a;transform:scale(1.0214,1.0000);">of both emergency shelter and</span>
<span class="t " style="left:917.60px;top:735.50px;font-family:'Liberation Serif', 'Times New Roman', serif;font-size:17.8px;font-weight:normal;color:#04355a;-webkit-text-stroke:0.15px #04355a;transform:scale(1.0633,1.0000);">permanent supportive housing</span>
<span class="t " style="left:917.60px;top:756.70px;font-family:'Liberation Serif', 'Times New Roman', serif;font-size:17.8px;font-weight:normal;color:#04355a;-webkit-text-stroke:0.15px #04355a;transform:scale(1.0269,1.0000);">beds but decreased transitional</span>
<span class="t " style="left:917.60px;top:777.80px;font-family:'Liberation Serif', 'Times New Roman', serif;font-size:17.8px;font-weight:normal;color:#04355a;-webkit-text-stroke:0.15px #04355a;transform:scale(1.0340,1.0000);">housing beds for both individuals</span>
<span class="t " style="left:917.60px;top:798.60px;font-family:'Liberation Serif', 'Times New Roman', serif;font-size:17.8px;font-weight:normal;color:#04355a;-webkit-text-stroke:0.15px #04355a;transform:scale(1.0176,1.0000);">and families.</span>
</p>
</aside>
</section>

</main>
</body>
</html>
